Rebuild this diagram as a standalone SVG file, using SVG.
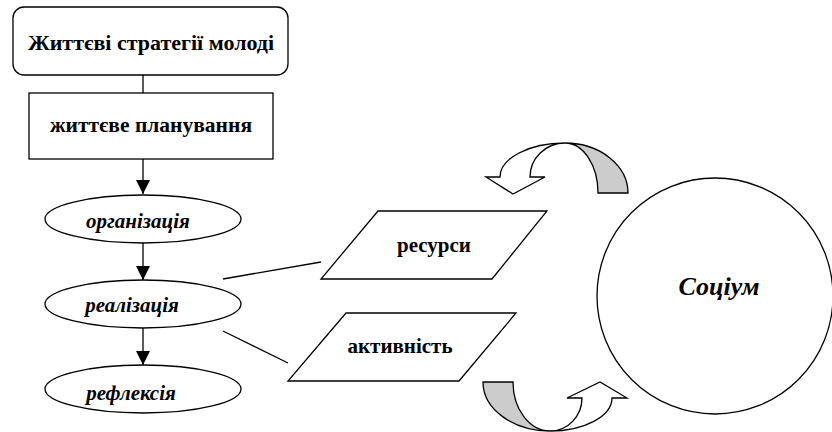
<svg xmlns="http://www.w3.org/2000/svg" width="832" height="432" viewBox="0 0 832 432" font-family="Liberation Serif">
<style>
.s{fill:#fff;stroke:#000;stroke-width:1.3}
.c{fill:none;stroke:#000;stroke-width:1.3}
text{font-weight:bold;text-anchor:middle;fill:#000}
.t{font-size:21px}
.big{font-size:22px}
.pl{font-size:21.5px}
.i{font-style:italic}
.soc{font-size:26px;font-style:italic}
.g{fill:#cccccc;stroke:#000;stroke-width:1.3}
</style>
<defs>
<marker id="ah" viewBox="0 0 14 14" refX="14" refY="7" markerWidth="14" markerHeight="14" markerUnits="userSpaceOnUse" orient="auto">
<path d="M0,0 L14,7 L0,14 Z" fill="#000"/>
</marker>
</defs>
<g id="connectors">
<line class="c" x1="143" y1="75" x2="143" y2="93"/>
<line class="c" x1="143" y1="159" x2="143" y2="194" marker-end="url(#ah)"/>
<line class="c" x1="143" y1="243" x2="143" y2="280" marker-end="url(#ah)"/>
<line class="c" x1="143" y1="328" x2="143" y2="365" marker-end="url(#ah)"/>
<line class="c" x1="223" y1="279" x2="321" y2="262"/>
<line class="c" x1="223" y1="331" x2="288" y2="363"/>
</g>
<g id="n-strategies">
<rect class="s" x="13" y="7" width="275" height="68" rx="11"/>
<text class="big" x="151" y="50" font-family="Liberation Serif">Життєві стратегії молоді</text>
</g>
<g id="n-planning">
<rect class="s" x="29" y="93" width="244" height="66"/>
<text class="pl" x="151" y="132" font-family="Liberation Serif">життєве планування</text>
</g>
<g id="n-organization">
<ellipse class="s" cx="143" cy="219" rx="98" ry="24"/>
<text class="t i" x="138" y="228" font-family="Liberation Serif">організація</text>
</g>
<g id="n-realization">
<ellipse class="s" cx="143" cy="304" rx="98" ry="24"/>
<text class="t i" x="132" y="312" font-family="Liberation Serif">реалізація</text>
</g>
<g id="n-reflection">
<ellipse class="s" cx="143" cy="389" rx="98" ry="24"/>
<text class="t i" x="131" y="400" font-family="Liberation Serif">рефлексія</text>
</g>
<g id="n-resources">
<polygon class="s" points="378,211 547,211 492,279 321,279"/>
<text class="t" x="434" y="252" font-family="Liberation Serif">ресурси</text>
</g>
<g id="n-activity">
<polygon class="s" points="346,313 516,313 459,381 288,381"/>
<text class="t" x="400" y="353" font-family="Liberation Serif">активність</text>
</g>
<g id="n-socium">
<circle class="s" cx="715" cy="296" r="118"/>
<text class="soc" x="719" y="295" font-family="Liberation Serif">Соціум</text>
</g>
<g id="arrow-top">
<path class="g" d="M598,193 A33,50 0 0 0 565,143 A63,50 0 0 1 628,193 Z"/>
<path class="s" d="M565,143 A65,34 0 0 0 500,177 L486,177 L513,194 L545,177 L530,177 A35,34 0 0 1 565,143 Z"/>
</g>
<g id="arrow-bottom">
<path class="g" d="M483,382 A67,49 0 0 0 550,431 A37,49 0 0 1 513,382 Z"/>
<path class="s" d="M550,431 A62,33 0 0 0 612,398 L627,398 L600,382 L567,398 L582,398 A32,33 0 0 1 550,431 Z"/>
</g>
</svg>
